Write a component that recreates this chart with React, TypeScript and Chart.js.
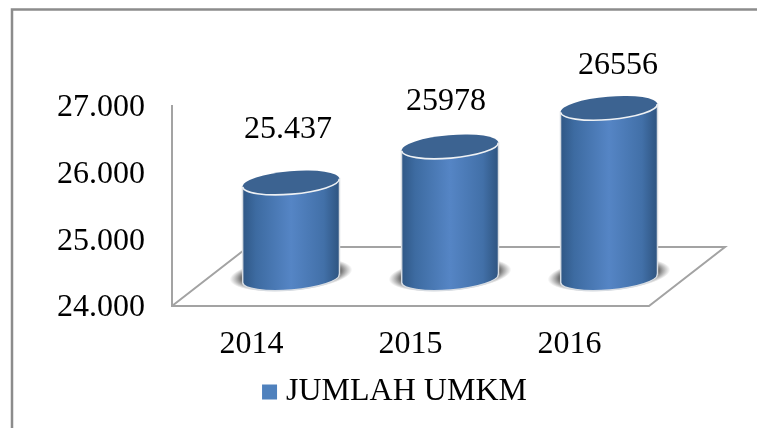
import React, { useEffect, useRef } from "react";
import { Chart, registerables } from "chart.js";

Chart.register(...registerables);

const categories = ["2014", "2015", "2016"];
const seriesName = "JUMLAH UMKM";
const values = [25437, 25978, 26556];
const valueLabels = ["25.437", "25978", "26556"];
const yMin = 24000;
const yMax = 27000;

const FONT = '"Liberation Serif", "Times New Roman", serif';
const GREY = "#a3a3a3";
const DEPTH_X = 76;
const DEPTH_Y = -58;
const BAR_DX = 39.5;
const BAR_DY = -26.5;
const TILT = -0.085;
const LABEL_OFFSETS = [
  [-3, -53],
  [-4, -45],
  [9, -43],
];

function ellipsePath(ctx: CanvasRenderingContext2D, x: number, y: number, rx: number, ry: number) {
  ctx.beginPath();
  ctx.ellipse(x, y, rx, ry, TILT, 0, Math.PI * 2);
}

const scene = {
  id: "scene",
  afterLayout(chart: any) {
    // centre the legend under the plot instead of under the whole canvas
    chart.legend.left = 147;
    chart.legend.right = 649;
  },
  beforeDatasetDraw() {
    return false;
  },
  beforeDatasetsDraw(chart: any) {
    const { ctx, chartArea: a } = chart;
    ctx.save();
    // outer frame
    ctx.strokeStyle = "#8c8c8c";
    ctx.lineWidth = 2.5;
    ctx.beginPath();
    ctx.moveTo(12, 428);
    ctx.lineTo(12, 9.5);
    ctx.lineTo(757, 9.5);
    ctx.stroke();
    // floor and wall
    ctx.strokeStyle = GREY;
    ctx.lineWidth = 2;
    ctx.beginPath();
    ctx.moveTo(a.left, a.top);
    ctx.lineTo(a.left, a.bottom + 1);
    ctx.lineTo(a.right, a.bottom + 1);
    ctx.lineTo(a.right + DEPTH_X, a.bottom + DEPTH_Y);
    ctx.lineTo(a.left + DEPTH_X, a.bottom + DEPTH_Y);
    ctx.lineTo(a.left, a.bottom + 1);
    ctx.stroke();
    ctx.restore();

    const meta = chart.getDatasetMeta(0);
    const basePixel = chart.scales.y.getPixelForValue(yMin);
    meta.data.forEach((el: any) => {
      const cx = el.x + BAR_DX;
      const top = el.y + BAR_DY;
      const base = basePixel + BAR_DY;
      const rx = el.width / 2;
      const ry = 11.5;
      const rise = rx * Math.sin(TILT);

      // soft shadow under the cylinder
      ctx.save();
      ctx.translate(cx, base - 4);
      ctx.rotate(TILT);
      ctx.scale(rx + 13, ry + 5);
      const sg = ctx.createRadialGradient(0, 0, 0, 0, 0, 1);
      sg.addColorStop(0, "rgba(70,70,70,1)");
      sg.addColorStop(0.78, "rgba(70,70,70,0.95)");
      sg.addColorStop(1, "rgba(110,110,110,0)");
      ctx.fillStyle = sg;
      ctx.beginPath();
      ctx.arc(0, 0, 1, 0, Math.PI * 2);
      ctx.fill();
      ctx.restore();

      // body
      const g = ctx.createLinearGradient(cx - rx, 0, cx + rx, 0);
      g.addColorStop(0, "#2f5785");
      g.addColorStop(0.14, "#3d6ba1");
      g.addColorStop(0.5, "#5585c5");
      g.addColorStop(0.84, "#4270a8");
      g.addColorStop(1, "#2e5480");
      ctx.save();
      ctx.beginPath();
      ctx.moveTo(cx - rx, top - rise);
      ctx.lineTo(cx + rx, top + rise);
      ctx.lineTo(cx + rx, base + rise);
      ctx.ellipse(cx, base, rx, ry, TILT, 0, Math.PI);
      ctx.closePath();
      ctx.fillStyle = g;
      ctx.fill();
      ctx.strokeStyle = "#d8dde3";
      ctx.lineWidth = 1.5;
      ctx.stroke();
      ctx.restore();

      // top face
      ctx.save();
      ellipsePath(ctx, cx, top, rx, ry);
      ctx.fillStyle = "#3c6391";
      ctx.fill();
      ctx.strokeStyle = "#eef1f4";
      ctx.lineWidth = 1.6;
      ctx.beginPath();
      ctx.ellipse(cx, top, rx, ry, TILT, 0, Math.PI);
      ctx.stroke();
      ctx.restore();
    });
  },
  afterDatasetsDraw(chart: any) {
    const { ctx } = chart;
    const meta = chart.getDatasetMeta(0);
    ctx.save();
    ctx.fillStyle = "#000";
    ctx.font = `32px ${FONT}`;
    ctx.textAlign = "center";
    ctx.textBaseline = "middle";
    meta.data.forEach((el: any, i: number) => {
      const [dx, dy] = LABEL_OFFSETS[i];
      ctx.fillText(valueLabels[i], el.x + BAR_DX + dx, el.y + BAR_DY + dy);
    });
    ctx.restore();
  },
};

export default function App() {
  const ref = useRef<HTMLCanvasElement | null>(null);
  useEffect(() => {
    if (!ref.current) return;
    const chart = new Chart(ref.current, {
      type: "bar",
      data: {
        labels: categories,
        datasets: [
          {
            label: seriesName,
            data: values,
            backgroundColor: "#4f81bd",
            borderColor: "#4f81bd",
            barPercentage: 0.61,
            categoryPercentage: 1,
          },
        ],
      },
      options: {
        animation: false,
        responsive: false,
        layout: { padding: { left: 0, right: 108, top: 105, bottom: 10 } },
        scales: {
          x: {
            grid: { display: false, drawTicks: false },
            border: { display: false },
            ticks: { color: "#000", font: { family: FONT, size: 32 }, padding: 20, maxRotation: 0 },
            afterFit(s: any) {
              s.height = 67;
            },
          },
          y: {
            min: yMin,
            max: yMax,
            grid: { display: false, drawTicks: false },
            border: { display: false },
            ticks: {
              color: "#000",
              font: { family: FONT, size: 32 },
              padding: 27,
              stepSize: 1000,
              labelOffset: 3,
              callback: (v: any) => `${String(v).slice(0, 2)}.${String(v).slice(2)}`,
            },
            afterFit(s: any) {
              s.width = 172;
            },
          },
        },
        plugins: {
          tooltip: { enabled: false },
          legend: {
            position: "bottom",
            labels: {
              color: "#000",
              font: { family: FONT, size: 32 },
              boxWidth: 1,
              boxHeight: 1,
              padding: 4,
              generateLabels: () => [
                {
                  text: seriesName,
                  fillStyle: "#4f81bd",
                  strokeStyle: "#4f81bd",
                  lineWidth: 14,
                  datasetIndex: 0,
                },
              ],
            },
          },
        },
      },
      plugins: [scene],
    } as any);
    return () => chart.destroy();
  }, []);
  return (
    <div style={{ position: "fixed", left: 0, top: 0, width: 757, height: 428, background: "#fff" }}>
      <canvas ref={ref} width={757} height={428} style={{ display: "block" }} />
    </div>
  );
}
